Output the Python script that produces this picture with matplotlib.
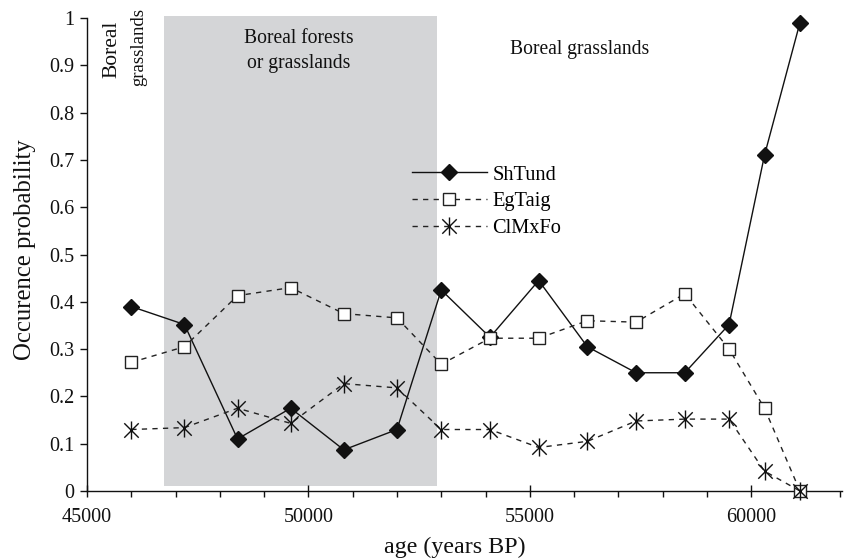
import matplotlib
matplotlib.use("Agg")
import matplotlib.pyplot as plt
from matplotlib.ticker import MultipleLocator
from matplotlib.path import Path

plt.rcParams['font.family'] = ['Liberation Serif', 'DejaVu Serif']

ages = [46000, 47200, 48400, 49600, 50800, 52000, 53000, 54100, 55200,
        56300, 57400, 58500, 59500, 60300, 61100]
shtund = [0.39, 0.352, 0.11, 0.175, 0.087, 0.13, 0.425, 0.325, 0.445,
          0.305, 0.25, 0.25, 0.352, 0.71, 0.99]
egtaig = [0.272, 0.305, 0.413, 0.43, 0.375, 0.366, 0.268, 0.323, 0.323,
          0.36, 0.357, 0.417, 0.30, 0.175, 0.0]
clmxfo = [0.13, 0.134, 0.175, 0.143, 0.227, 0.218, 0.13, 0.13, 0.092,
          0.105, 0.148, 0.152, 0.152, 0.042, 0.0]
series_names = ["ShTund", "EgTaig", "ClMxFo"]
shade_span = (46750, 52900)

# asterisk marker: X plus vertical stroke
star = Path([(0, -1), (0, 1), (-0.8, -0.8), (0.8, 0.8), (-0.8, 0.8), (0.8, -0.8)],
            [Path.MOVETO, Path.LINETO, Path.MOVETO, Path.LINETO, Path.MOVETO, Path.LINETO])

W, H = 844, 560
fig = plt.figure(figsize=(W / 100, H / 100), dpi=100)
L, R, B, T = 87, 842, 491, 18
ax = fig.add_axes([L / W, 1 - B / H, (R - L) / W, (B - T) / H])
ax.set_xlim(45000, 62050)
ax.set_ylim(0, 1.0)

ax.axvspan(shade_span[0], shade_span[1], ymin=0.01, ymax=1.005,
           color='#d4d5d7', lw=0, zorder=0, clip_on=False)

dash = (0, (3.8, 3.8))
ax.plot(ages, shtund, '-', color='#111111', lw=1.0, marker='D', ms=8.5,
        mfc='#111111', mec='#111111', label=series_names[0], zorder=3,
        clip_on=False)
ax.plot(ages, egtaig, linestyle=dash, color='#222222', lw=1.0, marker='s',
        ms=9.3, mfc='white', mec='#222222', mew=1.0,
        label=series_names[1], zorder=4, clip_on=False)
ax.plot(ages, clmxfo, linestyle=dash, color='#222222', lw=1.0,
        marker=star, ms=13, mec='#111111', mew=1.0,
        label=series_names[2], zorder=5, clip_on=False)

for s in ['top', 'right']:
    ax.spines[s].set_visible(False)
for s in ['left', 'bottom']:
    ax.spines[s].set_linewidth(1.0)
    ax.spines[s].set_color('#111111')
    ax.spines[s].set_zorder(2)

ax.xaxis.set_major_locator(MultipleLocator(5000))
ax.xaxis.set_minor_locator(MultipleLocator(1000))
ax.tick_params(axis='x', which='major', direction='inout', length=8, width=1,
               labelsize=14.5, pad=8, colors='#111111')
ax.tick_params(axis='x', which='minor', direction='out', length=4, width=1,
               colors='#111111')
ax.tick_params(axis='y', which='major', direction='out', length=5, width=1,
               labelsize=14.5, pad=4, colors='#111111')
ax.set_yticks([i / 10 for i in range(11)])
ax.set_yticklabels(['0'] + ['0.%d' % i for i in range(1, 10)] + ['1'])
ax.set_xticks([45000, 50000, 55000, 60000])
ax.set_xticklabels(['45000', '50000', '55000', '60000'])

ax.set_ylabel('Occurence probability', fontsize=17.8, color='#111111')
ax.yaxis.set_label_coords(-0.067, 0.51)
ax.set_xlabel('age (years BP)', fontsize=17.3, color='#111111')
ax.xaxis.set_label_coords(0.487, -0.097)

ax.text(49780, 0.93, 'Boreal forests\nor grasslands', ha='center', va='center',
        fontsize=14.1, linespacing=1.4, color='#111111')
ax.text(56130, 0.934, 'Boreal grasslands', ha='center', va='center',
        fontsize=14.1, color='#111111')
ax.text(45553, 1.0 - (20.7 - 18) / 473, 'Boreal', rotation=90, ha='center',
        va='top', fontsize=15.5, color='#111111', clip_on=False)
ax.text(46160, 1.0 + 10 / 473, 'grasslands', rotation=90, ha='center',
        va='top', fontsize=13.5, color='#111111', clip_on=False)

leg = ax.legend(loc='center left', bbox_to_anchor=(411.7 / W, 1 - 201.5 / H),
                bbox_transform=fig.transFigure, frameon=False, fontsize=14.7,
                handlelength=3.7, handletextpad=0.25, labelspacing=0.36,
                borderpad=0, borderaxespad=0, numpoints=1)

fig.savefig('out.png', dpi=100)
